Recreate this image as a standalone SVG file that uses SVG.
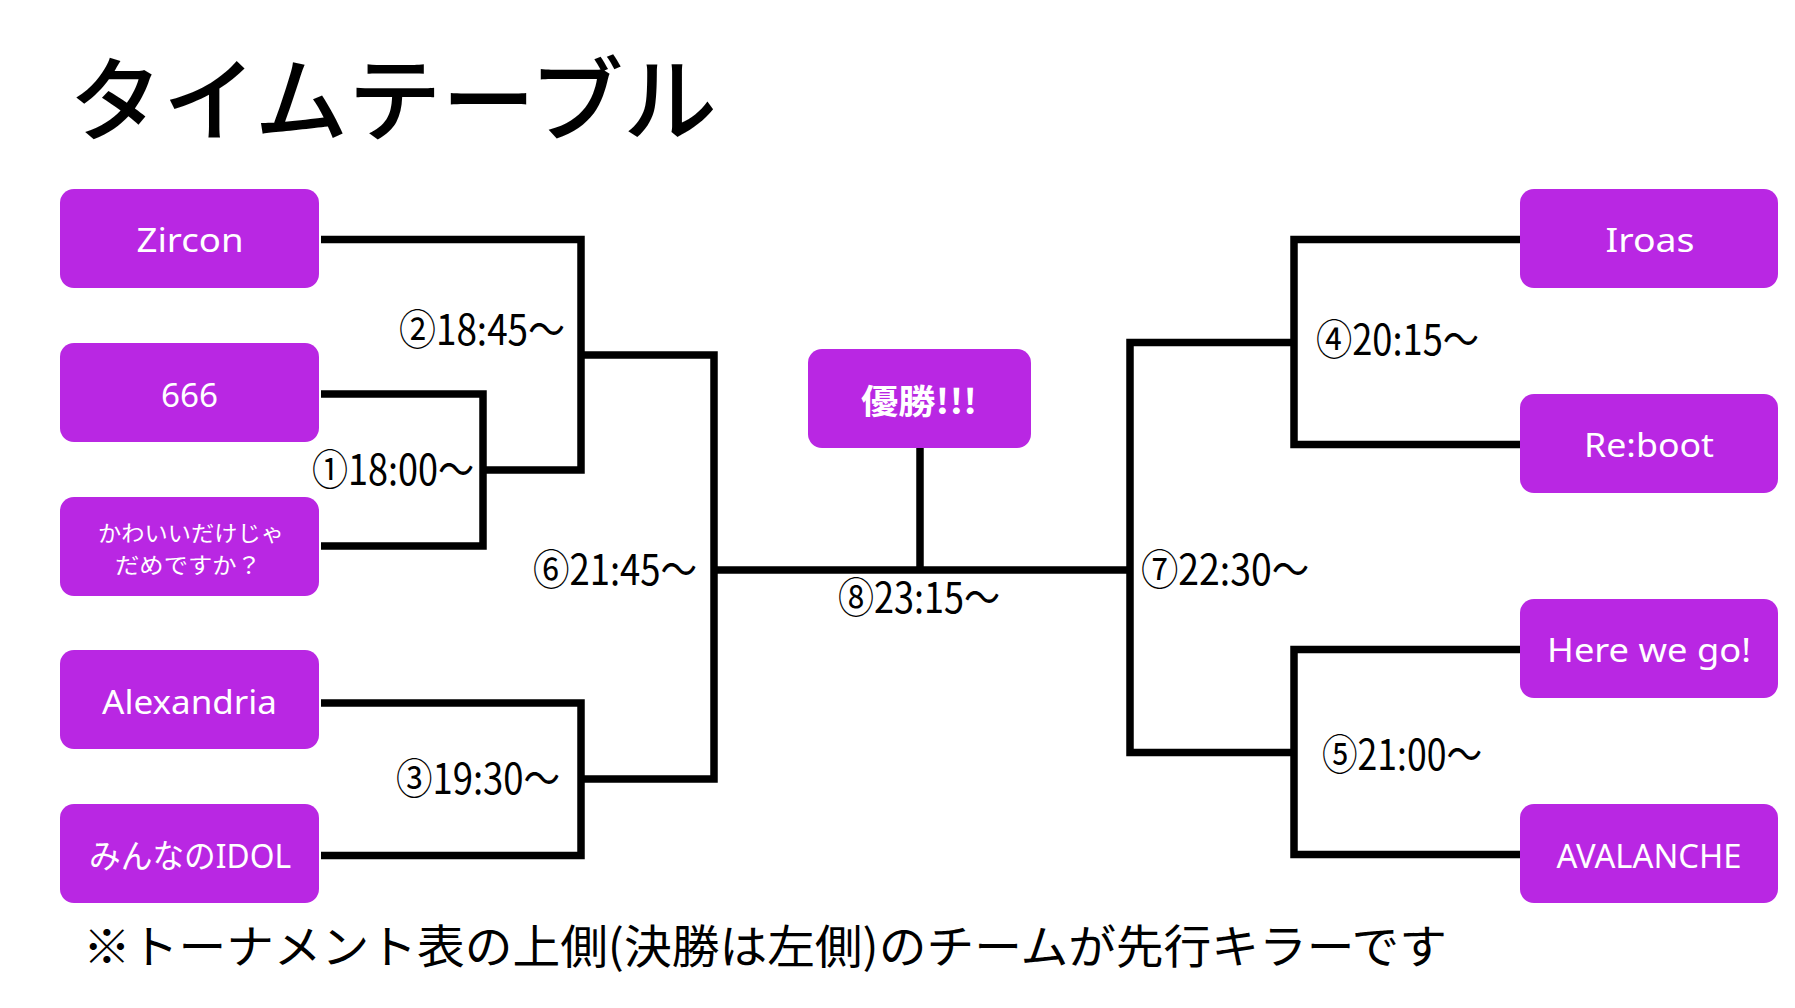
<svg xmlns="http://www.w3.org/2000/svg" width="1795" height="1008" viewBox="0 0 1795 1008">
<style>
.box{fill:#B927E3}
.lbl{fill:#fff;font-family:"Noto Sans","Noto Sans CJK JP",sans-serif;font-size:33px;text-anchor:middle}
.lblj{fill:#fff;font-family:"Noto Sans CJK JP",sans-serif;font-size:22px;text-anchor:middle}
.win{fill:#fff;font-family:"Noto Sans CJK JP",sans-serif;font-size:34px;font-weight:bold;text-anchor:middle}
.tm{fill:#000;font-family:"Noto Sans CJK JP",sans-serif;font-size:42px}
.ln{fill:none;stroke:#000;stroke-width:7.5;stroke-linejoin:miter}
</style>
<rect width="1795" height="1008" fill="#fff"/>
<text x="69" y="134" font-family="Noto Sans CJK JP, sans-serif" font-size="92" font-weight="500" textLength="648" lengthAdjust="spacingAndGlyphs">タイムテーブル</text>
<g id="connectors">
<path class="ln" d="M321,239.5 H581 V470 H483"/>
<path class="ln" d="M321,394 H483 V546 H321"/>
<path class="ln" d="M581,355 H714 V779 H581"/>
<path class="ln" d="M321,703 H581 V855.5 H321"/>
<path class="ln" d="M714,570 H1130"/>
<path class="ln" d="M920,448 V570"/>
<path class="ln" d="M1520,239.5 H1294 V444.5 H1520"/>
<path class="ln" d="M1294,342.5 H1130 V752.5 H1294"/>
<path class="ln" d="M1520,649.5 H1294 V854.5 H1520"/>
</g>
<g id="labels">
<text class="tm" x="399" y="345" textLength="166" lengthAdjust="spacingAndGlyphs">②18:45～</text>
<text class="tm" x="312" y="485" textLength="162" lengthAdjust="spacingAndGlyphs">①18:00～</text>
<text class="tm" x="533" y="585" textLength="164" lengthAdjust="spacingAndGlyphs">⑥21:45～</text>
<text class="tm" x="396" y="794" textLength="164" lengthAdjust="spacingAndGlyphs">③19:30～</text>
<text class="tm" x="838" y="613" textLength="162" lengthAdjust="spacingAndGlyphs">⑧23:15～</text>
<text class="tm" x="1141" y="585" textLength="168" lengthAdjust="spacingAndGlyphs">⑦22:30～</text>
<text class="tm" x="1316" y="355" textLength="163" lengthAdjust="spacingAndGlyphs">④20:15～</text>
<text class="tm" x="1322" y="770" textLength="160" lengthAdjust="spacingAndGlyphs">⑤21:00～</text>
</g>
<g id="zircon"><rect class="box" x="60" y="189" width="259" height="99" rx="14"/><text class="lbl" x="190" y="252" textLength="107" lengthAdjust="spacingAndGlyphs">Zircon</text></g>
<g id="t666"><rect class="box" x="60" y="343" width="259" height="99" rx="14"/><text class="lbl" x="189.5" y="407" textLength="57" lengthAdjust="spacingAndGlyphs">666</text></g>
<g id="kawaii"><rect class="box" x="60" y="497" width="259" height="99" rx="14"/><text class="lblj" x="191" y="541" textLength="186" lengthAdjust="spacingAndGlyphs">かわいいだけじゃ</text><text class="lblj" x="188" y="573" textLength="146" lengthAdjust="spacingAndGlyphs">だめですか？</text></g>
<g id="alexandria"><rect class="box" x="60" y="650" width="259" height="99" rx="14"/><text class="lbl" x="189.5" y="714" textLength="175" lengthAdjust="spacingAndGlyphs">Alexandria</text></g>
<g id="idol"><rect class="box" x="60" y="804" width="259" height="99" rx="14"/><text class="lbl" x="190" y="868" textLength="202" lengthAdjust="spacingAndGlyphs">みんなのIDOL</text></g>
<g id="winner"><rect class="box" x="808" y="349" width="223" height="99" rx="14"/><text class="win" x="919" y="414" textLength="116" lengthAdjust="spacingAndGlyphs">優勝!!!</text></g>
<g id="iroas"><rect class="box" x="1520" y="189" width="258" height="99" rx="14"/><text class="lbl" x="1650" y="252" textLength="89" lengthAdjust="spacingAndGlyphs">Iroas</text></g>
<g id="reboot"><rect class="box" x="1520" y="394" width="258" height="99" rx="14"/><text class="lbl" x="1649" y="457" textLength="130" lengthAdjust="spacingAndGlyphs">Re:boot</text></g>
<g id="herewego"><rect class="box" x="1520" y="599" width="258" height="99" rx="14"/><text class="lbl" x="1649" y="662" textLength="204" lengthAdjust="spacingAndGlyphs">Here we go!</text></g>
<g id="avalanche"><rect class="box" x="1520" y="804" width="258" height="99" rx="14"/><text class="lbl" x="1649" y="868" textLength="185" lengthAdjust="spacingAndGlyphs">AVALANCHE</text></g>
<text x="83" y="963" font-family="Noto Sans CJK JP, sans-serif" font-size="46" textLength="1364" lengthAdjust="spacingAndGlyphs">※トーナメント表の上側(決勝は左側)のチームが先行キラーです</text>
</svg>
